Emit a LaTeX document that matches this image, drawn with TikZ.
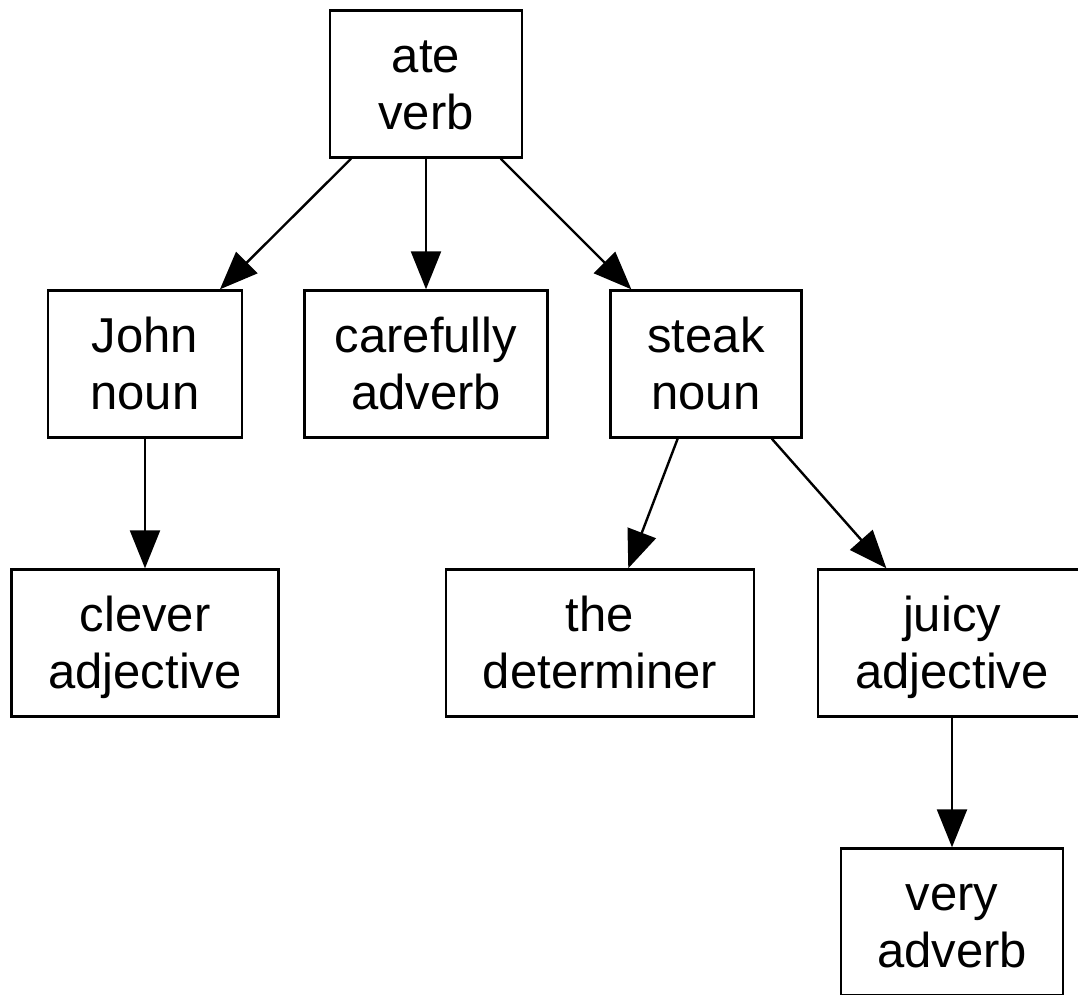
\documentclass[tikz,border=0pt]{standalone}
\usepackage{fontspec}
\setmainfont{Liberation Sans}
\usetikzlibrary{arrows.meta}
\newcommand{\twolines}[2]{\vphantom{h}#1\\\smash[b]{#2}\rule[-2pt]{0pt}{2pt}}
\usepackage{amsmath}
\tikzset{
  wbox/.style={draw=black, line width=2.4pt, fill=white, align=center, inner sep=0pt,
    font=\fontsize{49}{57}\selectfont, minimum height=147pt},
  conn/.style={line width=2.4pt, -{Triangle[length=38pt,width=30pt]}}
}
\begin{document}
\begin{tikzpicture}[x=1pt,y=-1pt]
\useasboundingbox (0,0) rectangle (1078,994);
\clip (0,0) rectangle (1078,994);
\node[wbox, minimum width=192pt] (ate) at (426,84) {\twolines{ate}{verb}};
\node[wbox, minimum width=194pt] (john) at (145,364) {\twolines{John}{noun}};
\node[wbox, minimum width=243pt] (carefully) at (426,364) {\twolines{carefully}{adverb}};
\node[wbox, minimum width=191pt] (steak) at (706,364) {\twolines{steak}{noun}};
\node[wbox, minimum width=267pt] (clever) at (145,643) {\twolines{clever}{adjective}};
\node[wbox, minimum width=308pt] (the) at (600,643) {\twolines{the}{determiner}};
\node[wbox, minimum width=268pt] (juicy) at (952,643) {\twolines{juicy}{adjective}};
\node[wbox, minimum width=222pt] (very) at (952,922) {\twolines{very}{adverb}};
\draw[conn] (ate) -- (john);
\draw[conn] (ate) -- (carefully);
\draw[conn] (ate) -- (steak);
\draw[conn] (john) -- (clever);
\draw[conn] (steak) -- (the);
\draw[conn] (steak) -- (juicy);
\draw[conn] (juicy) -- (very);
\end{tikzpicture}
\end{document}
